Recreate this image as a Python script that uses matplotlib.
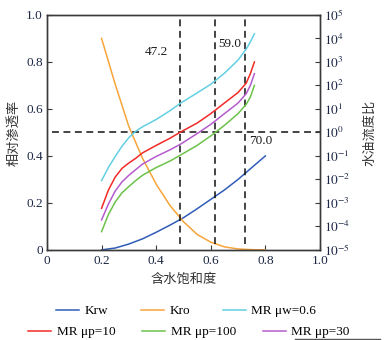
import math
import matplotlib
matplotlib.use('Agg')
import matplotlib.pyplot as plt
from matplotlib.ticker import FixedLocator, FuncFormatter, NullLocator
from matplotlib.lines import Line2D

# water saturation grid for the relative permeability curves
sw = [0.2, 0.25, 0.3, 0.35, 0.4, 0.45, 0.5, 0.55, 0.6, 0.65, 0.7, 0.75, 0.8]
krw = [0.0, 0.008, 0.025, 0.047, 0.075, 0.105, 0.137, 0.175, 0.215, 0.255, 0.30, 0.35, 0.40]
kro = [0.90, 0.705, 0.525, 0.39, 0.28, 0.19, 0.12, 0.066, 0.033, 0.013, 0.004, 0.001, 0.0]

# water saturation grid for the mobility ratio curves
sw_mr = [0.2, 0.225, 0.25, 0.275, 0.3, 0.325, 0.35, 0.4, 0.45, 0.49, 0.55, 0.6, 0.65, 0.7, 0.73, 0.745, 0.76]
mr_w06 = [8.9e-3, 3.2e-2, 9.5e-2, 0.26, 0.6, 1.12, 1.74, 3.55, 8.3, 17.8, 48, 112, 330, 1200, 3550, 7100, 15800]
mr_p10 = [5.9e-4, 3.5e-3, 1.26e-2, 2.95e-2, 5e-2, 7.9e-2, 0.135, 0.28, 0.56, 1.05, 2.5, 6.3, 17.8, 50, 126, 316, 1000]
mr_p30 = [1.9e-4, 8.9e-4, 3.2e-3, 7.9e-3, 1.5e-2, 2.6e-2, 4.5e-2, 9.5e-2, 0.18, 0.32, 0.89, 2.2, 6.3, 17.8, 45, 100, 316]
mr_p100 = [6e-5, 3.2e-4, 1.1e-3, 2.7e-3, 5e-3, 8.9e-3, 1.5e-2, 3.2e-2, 6e-2, 0.11, 0.28, 0.71, 2.0, 6.3, 15.8, 32, 100]

# dashed guide lines and their labels
vlines_x = [0.487, 0.614, 0.726]
notes = ['47.2', '59.0', '70.0']
notes_xy = [(0.40, 0.843), (0.67, 0.875), (0.782, 0.465)]

plt.rcParams['font.family'] = ['Liberation Serif', 'Noto Sans CJK SC']
plt.rcParams['mathtext.fontset'] = 'stix'
plt.rcParams['font.size'] = 9.5

tick_color = '#1c2744'
spine_color = '#3a3a3a'
cjk = ['Noto Sans CJK SC', 'DejaVu Sans']

fig = plt.figure(figsize=(3.85, 3.4), dpi=100)
ax = fig.add_axes([0.122, 0.265, 0.709, 0.691])
ax2 = ax.twinx()

l_krw, = ax.plot(sw, krw, color='#2f5cb8', lw=1.1)
l_kro, = ax.plot(sw, kro, color='#f7a53a', lw=1.1)

l_w06, = ax2.plot(sw_mr, mr_w06, color='#62d0e2', lw=1.1)
l_p10, = ax2.plot(sw_mr, mr_p10, color='#f22a26', lw=1.1)
l_p100, = ax2.plot(sw_mr, mr_p100, color='#6cc24a', lw=1.1)
l_p30, = ax2.plot(sw_mr, mr_p30, color='#b45ccc', lw=1.1)

# guide lines
ax.plot([0.02, 1.0], [0.5, 0.5], color='#111111', lw=1.1, ls=(0, (4.5, 3)))
for x in vlines_x:
	ax.plot([x, x], [0.025, 1.0], color='#111111', lw=1.1, ls=(0, (4.5, 3)))
for txt, (tx, ty) in zip(notes, notes_xy):
	ax.text(tx, ty, txt, ha='center', va='center', color='#1a1a1a')

ax.set_xlim(0, 1)
ax.set_ylim(0, 1)
ax2.set_yscale('log')
ax2.set_ylim(1e-5, 1e5)

fmt = FuncFormatter(lambda v, p: '0' if v == 0 else '%.1f' % v)
ax.xaxis.set_major_locator(FixedLocator([0, 0.2, 0.4, 0.6, 0.8, 1.0]))
ax.yaxis.set_major_locator(FixedLocator([0, 0.2, 0.4, 0.6, 0.8, 1.0]))
ax.xaxis.set_major_formatter(fmt)
ax.yaxis.set_major_formatter(fmt)
ax2.yaxis.set_major_locator(FixedLocator([10.0 ** k for k in range(-5, 6)]))
ax2.yaxis.set_major_formatter(FuncFormatter(lambda v, p: r'$10^{%d}$' % round(math.log10(v))))
ax2.yaxis.set_minor_locator(NullLocator())

for a in (ax, ax2):
	a.tick_params(direction='in', length=3.5, width=0.8, colors=spine_color, labelcolor=tick_color, pad=3)
	for s in a.spines.values():
		s.set_color(spine_color)
		s.set_linewidth(1.0)
ax.tick_params(axis='x', pad=4)

ax.set_xlabel('含水饱和度', family=cjk, color='#333333', labelpad=4)
ax.set_ylabel('相对渗透率', family=cjk, color='#333333', labelpad=4)
ax2.set_ylabel('水油流度比', family=cjk, color='#333333', labelpad=9)

leg_kw = dict(frameon=False, ncol=3, loc='center', handlelength=1.75, handletextpad=0.4,
	borderpad=0, borderaxespad=0)
leg1 = fig.legend([l_krw, l_kro, l_w06], ['Krw', 'Kro', 'MR μw=0.6'],
	bbox_to_anchor=(186 / 385, 1 - 311 / 340), columnspacing=2.5, **leg_kw)
leg2 = fig.legend([l_p10, l_p100, l_p30], ['MR μp=10', 'MR μp=100', 'MR μp=30'],
	bbox_to_anchor=(189 / 385, 1 - 332 / 340), columnspacing=2.05, **leg_kw)

# thin grey rule at the lower right corner
fig.add_artist(Line2D([295 / 385, 380 / 385], [1 - 338.5 / 340, 1 - 338.5 / 340],
	color='#555555', lw=1.0, transform=fig.transFigure))

fig.savefig('out.png', dpi=100)
